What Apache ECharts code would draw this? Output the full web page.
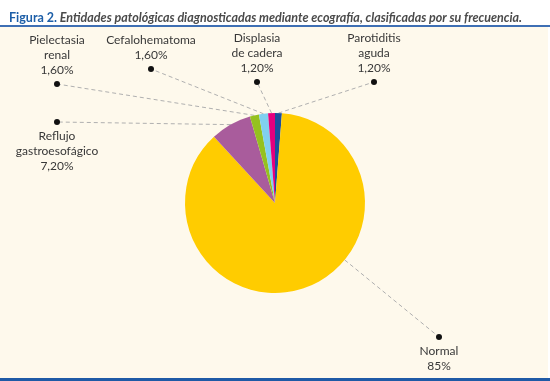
<!DOCTYPE html>
<html><head><meta charset="utf-8">
<script src="https://cdn.jsdelivr.net/npm/echarts@6/dist/echarts.min.js"></script>
<style>html,body{margin:0;padding:0;background:#fff}#c{width:550px;height:381px}</style>
</head><body><div id="c"></div>
<script>
const categories = ['Parotiditis\naguda', 'Normal', 'Reflujo\ngastroesofágico', 'Pielectasia\nrenal', 'Cefalohematoma', 'Displasia\nde cadera'];
const values = [1.2, 85, 7.2, 1.6, 1.6, 1.2];
const valueLabels = ['1,20%', '85%', '7,20%', '1,60%', '1,60%', '1,20%'];
const sliceColors = ['#1c4f9c', '#ffcc00', '#a95c9c', '#95c11f', '#80d0f0', '#e5007e'];
// label placement (layout): dot x, dot y, text side, line start mode
const labelPlacement = [
  [374, 82, 'above', 'mid'],
  [439, 337, 'below', 'radial'],
  [57, 122, 'below', 'mid'],
  [57, 84, 'above', 'mid'],
  [151, 69, 'above', 'mid'],
  [257, 82, 'above', 'mid']
];
const CENTER = [275, 203], RADIUS = 90;
const chart = echarts.init(document.getElementById('c'), null, {renderer: 'canvas'});
const FONT = 'Lato';
const DOT_LH = 13;
chart.setOption({
  animation: false,
  backgroundColor: '#ffffff',
  graphic: [
    {type: 'rect', shape: {x: 0, y: 27, width: 548, height: 352}, style: {fill: '#fef9ec'}, silent: true, z: -10},
    {type: 'rect', shape: {x: 0, y: 25, width: 550, height: 2}, style: {fill: '#3e6fb4'}, silent: true, z: -9},
    {type: 'rect', shape: {x: 0, y: 378, width: 550, height: 3}, style: {fill: '#1f5aa6'}, silent: true, z: -9}
  ],
  title: {
    left: 4, top: 4,
    text: '{b|Figura 2.}{i| Entidades patológicas diagnosticadas mediante ecografía, clasificadas por su frecuencia.}',
    textStyle: {
      rich: {
        b: {fontFamily: FONT, fontSize: 12.5, fontWeight: 'bold', color: '#1d5fa8', lineHeight: 18},
        i: {fontFamily: FONT, fontSize: 12.5, fontStyle: 'italic', color: '#4a4a4a', lineHeight: 18}
      }
    }
  },
  series: [{
    type: 'pie',
    center: CENTER,
    radius: RADIUS,
    startAngle: 90,
    clockwise: true,
    avoidLabelOverlap: false,
    emphasis: {disabled: true},
    itemStyle: {borderColor: 'rgba(0,0,0,0)', borderWidth: 0},
    data: categories.map((c, i) => ({name: c, value: values[i], itemStyle: {color: sliceColors[i]}})),
    label: {
      show: true,
      position: 'outside',
      formatter: p => {
        const i = p.dataIndex;
        const lines = categories[i].split('\n').concat([valueLabels[i]]).map(s => '{t|' + s + '}');
        return labelPlacement[i][2] === 'above' ? lines.concat(['{d| }']).join('\n') : ['{d| }'].concat(lines).join('\n');
      },
      rich: {
        t: {fontFamily: FONT, fontSize: 12, lineHeight: 15, color: '#383838'},
        d: {width: 6, height: 6, borderRadius: 3, backgroundColor: '#111111', lineHeight: DOT_LH}
      }
    },
    labelLine: {
      show: true, length: 10, length2: 10,
      lineStyle: {color: '#b0b0b0', width: 1, type: [4, 3]}
    },
    labelLayout: params => {
      const pl = labelPlacement[params.dataIndex];
      const dx = pl[0], dy = pl[1];
      let start;
      if (pl[3] === 'radial') {
        const vx = dx - CENTER[0], vy = dy - CENTER[1];
        const len = Math.sqrt(vx * vx + vy * vy);
        start = [CENTER[0] + RADIUS * vx / len, CENTER[1] + RADIUS * vy / len];
      } else {
        start = params.labelLinePoints[0];
      }
      return {
        x: dx,
        y: pl[2] === 'above' ? dy + DOT_LH / 2 : dy - DOT_LH / 2,
        align: 'center',
        verticalAlign: pl[2] === 'above' ? 'bottom' : 'top',
        labelLinePoints: [start, [dx, dy]]
      };
    }
  }]
});
</script></body></html>
